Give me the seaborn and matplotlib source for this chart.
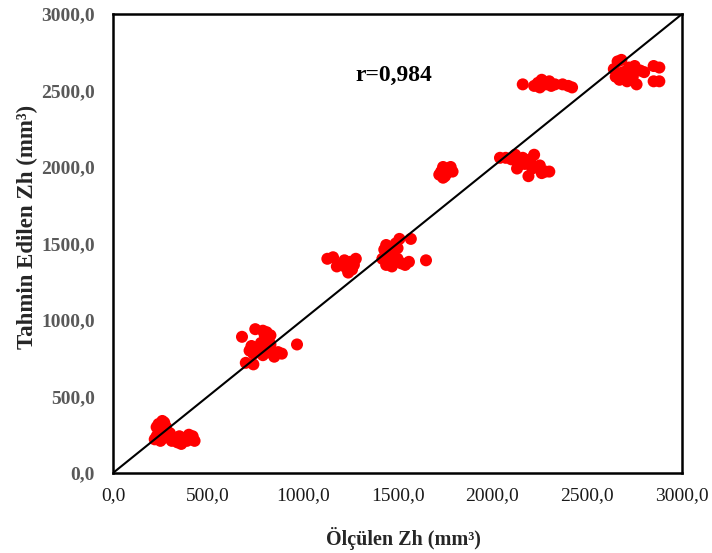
import numpy as np
import pandas as pd
import matplotlib
matplotlib.use("Agg")
import matplotlib.pyplot as plt
import seaborn as sns
from matplotlib.ticker import FuncFormatter, MultipleLocator

# Measured (x) and predicted (y) Zh values, mm^3
measured = [
    230, 240, 260, 270, 250, 280, 230, 220, 250, 270, 300, 290, 240,
    320, 340, 360, 380, 400, 420, 430, 350, 390, 310,
    680, 700, 740, 720, 730, 760, 750, 790, 800, 820, 830, 780, 810, 840, 850,
    790, 870, 890, 970, 740, 760, 830, 810,
    1130, 1160, 1180, 1210, 1230, 1240, 1250, 1270, 1280, 1220, 1260,
    1420, 1430, 1440, 1450, 1460, 1470, 1480, 1490, 1500, 1510, 1520, 1540,
    1560, 1570, 1650, 1440, 1480, 1500,
    1720, 1730, 1740, 1750, 1760, 1770, 1780, 1790, 1740,
    2040, 2070, 2100, 2120, 2130, 2150, 2170, 2190, 2210, 2220, 2230, 2250,
    2260, 2280, 2300, 2160, 2200,
    2160, 2220, 2240, 2260, 2280, 2300, 2330, 2370, 2400, 2420, 2250, 2310,
    2640, 2650, 2660, 2680, 2690, 2700, 2710, 2720, 2730, 2750, 2760, 2780,
    2800, 2850, 2880, 2850, 2880, 2670, 2740,
]
predicted = [
    300, 320, 340, 330, 280, 300, 240, 220, 210, 230, 260, 240, 260,
    220, 200, 190, 230, 250, 240, 210, 240, 210, 210,
    890, 720, 710, 800, 830, 790, 940, 930, 900, 870, 840, 850, 800, 780, 760,
    770, 790, 780, 840, 780, 820, 900, 920,
    1400, 1410, 1350, 1370, 1340, 1310, 1380, 1360, 1400, 1390, 1330,
    1400, 1460, 1490, 1440, 1380, 1350, 1420, 1500, 1470, 1530, 1370, 1360,
    1380, 1530, 1390, 1360, 1450, 1400,
    1950, 1970, 2000, 1940, 1960, 1990, 2000, 1970, 1930,
    2060, 2060, 2050, 2080, 1990, 2040, 2020, 1940, 1990, 2080, 2000, 2010,
    1960, 1970, 1970, 2060, 2050,
    2540, 2530, 2550, 2570, 2540, 2560, 2540, 2540, 2530, 2520, 2520, 2530,
    2640, 2590, 2690, 2700, 2620, 2580, 2560, 2650, 2610, 2660, 2540, 2630,
    2620, 2660, 2650, 2560, 2560, 2570, 2590,
]
r_value = "0,984"
axis_max = 3000

df = pd.DataFrame({"measured": measured, "predicted": predicted})

sns.set_style("white")
plt.rcParams["font.family"] = ["Liberation Serif", "DejaVu Serif"]

fig = plt.figure(figsize=(7.12, 5.53), dpi=100)
ax = fig.add_axes([0.1587, 0.1447, 0.7993, 0.8300])

sns.scatterplot(data=df, x="measured", y="predicted", ax=ax,
                color="#ff0000", s=75, edgecolor="none", linewidth=0, zorder=3)

# 1:1 reference line
ax.plot([0, axis_max], [0, axis_max], color="black", linewidth=1.5, zorder=4)

ax.set_xlim(0, axis_max)
ax.set_ylim(0, axis_max)
ax.xaxis.set_major_locator(MultipleLocator(500))
ax.yaxis.set_major_locator(MultipleLocator(500))
fmt = FuncFormatter(lambda v, _: f"{v:.1f}".replace(".", ","))
ax.xaxis.set_major_formatter(fmt)
ax.yaxis.set_major_formatter(fmt)

for lab in ax.get_yticklabels():
    lab.set_fontweight("bold")
    lab.set_color("#595959")
    lab.set_fontsize(14)
for lab in ax.get_xticklabels():
    lab.set_fontweight("normal")
    lab.set_color("#1a1a1a")
    lab.set_fontsize(14)
ax.tick_params(axis="y", length=0, pad=13)
ax.tick_params(axis="x", length=0, pad=10)

for sp in ax.spines.values():
    sp.set_color("black")
    sp.set_linewidth(1.8)

ax.set_xlabel("Ölçülen Zh (mm³)", fontsize=14.5, fontweight="bold")
ax.set_ylabel("Tahmin Edilen Zh (mm³)", fontsize=16.5, fontweight="bold")
ax.xaxis.set_label_coords(0.51, -0.118)
ax.yaxis.set_label_coords(-0.132, 0.535)

ax.text(1480, 2600, f"r={r_value}", fontsize=17, fontweight="bold",
        ha="center", va="center", color="black", zorder=5)

fig.savefig("out.png", dpi=100)
